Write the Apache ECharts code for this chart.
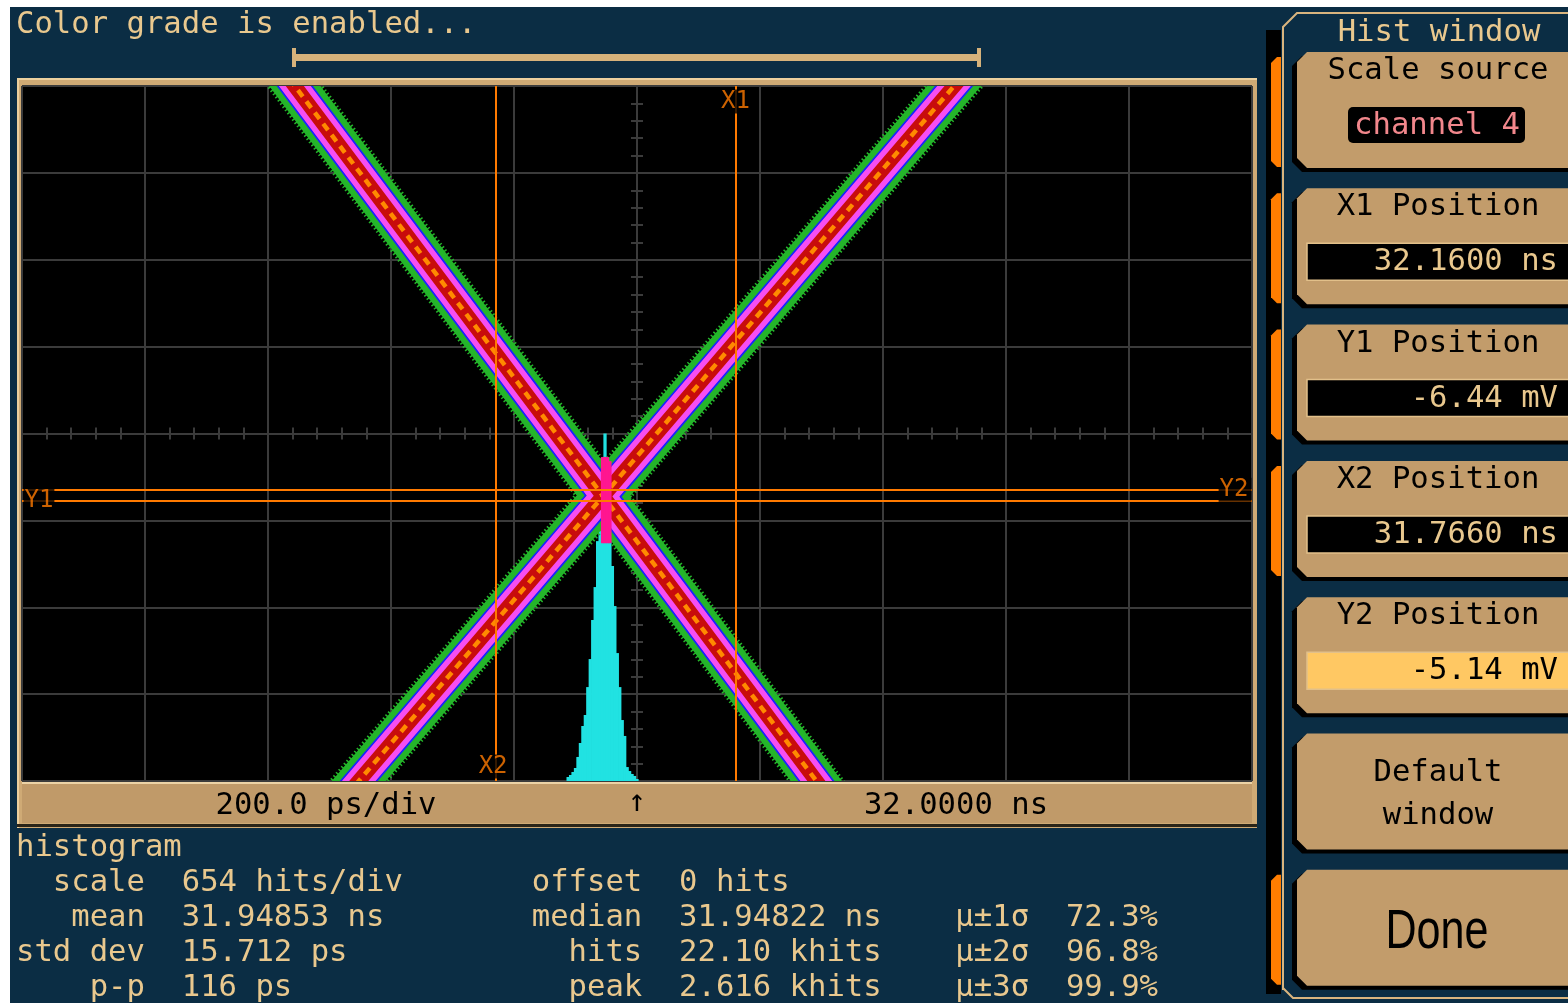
<!DOCTYPE html>
<html>
<head>
<meta charset="utf-8">
<title>Hist window</title>
<script src="https://cdn.jsdelivr.net/npm/echarts@6/dist/echarts.min.js"></script>
<style>
  html, body { margin: 0; padding: 0; background: #0b2d44; }
  #main { width: 1568px; height: 1003px; }
</style>
</head>
<body>
<div id="main"></div>
<script>
// screen scale
var centerTime = 32.0;     // ns at screen centre
var timePerDiv = 0.2;      // 200 ps/div
var centerMv = 1.33;       // mV at screen centre
var mvPerDiv = 10;
var hitsPerDiv = 654;

// colour graded edges, centre lines (ns, mV)
var fallingTime = [31.394, 31.943, 32.348];
var fallingMv = [46, -5.7, -44];
var risingTime = [31.483, 31.947, 32.572];
var risingMv = [-44, -5.7, 46];

// histogram of crossing times, 4 ps bins
var histStart = 31.886;
var histBin = 0.004;
var histHits = [30, 45, 68, 98, 181, 286, 414, 497, 707, 918, 1212, 1460, 1806, 2107, 2438,
  2616, 2438, 2408, 1618, 1317, 963, 707, 459, 339, 105, 75, 53, 38, 15];
// part of the histogram that sits on top of the edges (drawn pink)
var overlapTime = [31.944, 31.962];
var overlapHits = [1790, 2440];

// cursors
var cursorX1 = 32.16, cursorX2 = 31.766;
var cursorY1 = -6.44, cursorY2 = -5.14;

// statistics block
var statLabels = ['scale', 'mean', 'std dev', 'p-p'];
var statValues = ['654 hits/div', '31.94853 ns', '15.712 ps', '116 ps'];
var statLabels2 = ['offset', 'median', 'hits', 'peak'];
var statValues2 = ['0 hits', '31.94822 ns', '22.10 khits', '2.616 khits'];
var sigmaLabels = ['', 'μ±1σ', 'μ±2σ', 'μ±3σ'];
var sigmaValues = ['', '72.3%', '96.8%', '99.9%'];

// side menu
var menuTitle = 'Hist window';
var menuLabels = ['Scale source', 'X1 Position', 'Y1 Position', 'X2 Position', 'Y2 Position', 'Default\nwindow', 'Done'];
var menuValues = ['channel 4', '32.1600 ns', '-6.44 mV', '31.7660 ns', '-5.14 mV', '', ''];
var menuTabs = [1, 1, 1, 1, 0, 0, 1];
var menuActive = 4;

var NAVY = '#0b2d44';
var TAN = '#c29c6b';
var TAN_TEXT = '#e9c88e';
var GRID = '#3b3b3b';
var CURSOR = '#ff7a00';
var MONO = '"DejaVu Sans Mono", monospace';
var FONT = '30.6px ' + MONO;

var xMin = centerTime - 5 * timePerDiv, xMax = centerTime + 5 * timePerDiv;
var yMin = centerMv - 4 * mvPerDiv, yMax = centerMv + 4 * mvPerDiv;

function txt(x, y, s, fill, align, font, z) {
  return {
    type: 'text', x: x, y: y, z: z || 5, silent: true,
    style: {
      text: s, fill: fill, font: font || FONT,
      textAlign: align || 'left', align: align || 'left',
      textVerticalAlign: 'middle', verticalAlign: 'middle'
    }
  };
}
function box(x, y, w, h, fill, z, extra) {
  var el = { type: 'rect', z: z || 1, silent: true, shape: { x: x, y: y, width: w, height: h }, style: { fill: fill } };
  if (extra) { for (var k in extra) el.style[k] = extra[k]; }
  return el;
}
function chamfered(x, y, right, h, c, fill, z) {
  return {
    type: 'polygon', z: z || 1, silent: true,
    shape: { points: [[x + c, y], [right, y], [right, y + h], [x + c, y + h], [x, y + h - c], [x, y + c]] },
    style: { fill: fill }
  };
}

var gfx = [];
// screenshot border
gfx.push(box(0, 0, 1568, 7, '#ffffff', 20));
gfx.push(box(0, 0, 10, 1003, '#ffffff', 20));

gfx.push(txt(16, 25, 'Color grade is enabled...', TAN_TEXT));
// horizontal position bar
gfx.push(box(294, 54, 685, 7, '#d6b27b', 2));
gfx.push(box(292, 48, 4, 19, '#d6b27b', 2));
gfx.push(box(977, 48, 4, 19, '#d6b27b', 2));

// frame round the screen and the time base strip
gfx.push(box(17, 78, 1240, 750, '#cfaa75', -1));
gfx.push(box(17, 78, 1240, 2, '#ecd09e', -1));
gfx.push(box(17, 78, 2, 750, '#ecd09e', -1));
gfx.push(box(22, 782, 1230, 41, '#c09a69', 1));
gfx.push(box(22, 782, 1230, 2, '#ecd3a6', 1));
gfx.push(box(17, 824, 1240, 3, '#2a2418', 1));
gfx.push(txt(326, 806, (timePerDiv * 1000).toFixed(1) + ' ps/div', '#000', 'center'));
gfx.push(txt(637, 803, '↑', '#000', 'center'));
gfx.push(txt(956, 806, centerTime.toFixed(4) + ' ns', '#000', 'center'));

// statistics
function statRow(i) {
  return statLabels[i].padStart(7) + '  ' + statValues[i].padEnd(19) +
    statLabels2[i].padStart(6) + '  ' + statValues2[i].padEnd(15) +
    sigmaLabels[i] + (sigmaLabels[i] ? '  ' : '') + sigmaValues[i];
}
gfx.push(txt(16, 848, 'histogram', TAN_TEXT));
for (var i = 0; i < statLabels.length; i++) {
  gfx.push(txt(16, 883 + 35 * i, statRow(i), TAN_TEXT));
}

// side menu
gfx.push(box(1266, 30, 15, 964, '#000', 1));
gfx.push({ type: 'polyline', z: 2, silent: true, shape: { points: [[1283, 990], [1283, 27], [1297, 13], [1568, 13]] },
  style: { stroke: '#d9b47e', lineWidth: 2, fill: null } });
gfx.push({ type: 'polyline', z: 2, silent: true, shape: { points: [[1283, 988], [1293, 998], [1568, 998]] },
  style: { stroke: '#d9b47e', lineWidth: 2, fill: null } });
gfx.push(txt(1439, 33, menuTitle, TAN_TEXT, 'center'));

var btnX = 1297, btnTop = 52, btnStep = 136.3, btnH = 116;
menuLabels.forEach(function (label, k) {
  var top = btnTop + btnStep * k;
  gfx.push(chamfered(btnX - 5, top + 4, 1580, btnH, 10, '#000', 2));
  gfx.push(chamfered(btnX, top, 1580, btnH, 10, TAN, 3));
  if (menuTabs[k]) {
    gfx.push(chamfered(1271, top + 5, 1281, btnH - 6, 6, '#ff7d00', 3));
  }
  if (k === 0) {
    gfx.push(txt(1438, top + 19, label, '#000', 'center', null, 4));
    gfx.push({ type: 'rect', z: 4, silent: true, shape: { x: 1348, y: top + 55, width: 177, height: 36, r: 5 },
      style: { fill: '#000' } });
    gfx.push(txt(1437, top + 74, menuValues[k], '#f2878c', 'center', null, 5));
  } else if (menuValues[k]) {
    var on = k === menuActive;
    gfx.push(txt(1438, top + 19, label, '#000', 'center', null, 4));
    gfx.push(box(1307, top + 55, 270, 37, on ? '#ffc863' : '#000', 4, { stroke: '#e2c08a', lineWidth: 1.5 }));
    gfx.push(txt(1558, top + 74, menuValues[k], on ? '#000' : TAN_TEXT, 'right', null, 5));
  } else if (k === menuLabels.length - 1) {
    var done = txt(1437, top + 63, label, '#000', 'center', '56px "Liberation Sans", sans-serif', 5);
    done.scaleX = 0.77;
    gfx.push(done);
  } else {
    var t = txt(1438, top + 61, label, '#000', 'center', null, 5);
    t.style.lineHeight = 43;
    gfx.push(t);
  }
});

// colour grade layers, widest (lowest density) first
var gradeLayers = [
  { color: '#24b52a', width: 46, dash: [1.5, 2.5] },
  { color: '#24b52a', width: 41 },
  { color: '#1a22ff', width: 29 },
  { color: '#f64ef2', width: 25.5 },
  { color: '#c80c0c', width: 14.5 },
  { color: '#ff8a00', width: 4.5, dash: [8, 6] }
];
var edges = [[fallingTime, fallingMv], [risingTime, risingMv]];
var traceItems = [];
gradeLayers.forEach(function (layer) {
  edges.forEach(function (e) { traceItems.push({ layer: layer, time: e[0], mv: e[1] }); });
});

var series = [];
series.push({
  type: 'custom', xAxisIndex: 0, yAxisIndex: 2, z: 2, silent: true, clip: true,
  data: traceItems.map(function (it) { return [it.time[1], it.mv[1]]; }),
  renderItem: function (params, api) {
    var it = traceItems[params.dataIndex];
    var pts = it.time.map(function (t, j) { return api.coord([t, it.mv[j]]); });
    return {
      type: 'polyline', shape: { points: pts },
      style: { stroke: it.layer.color, lineWidth: it.layer.width, lineDash: it.layer.dash || null, fill: null }
    };
  }
});

var histData = histHits.map(function (h, i) { return [histStart + i * histBin, h]; });
series.push({
  type: 'custom', xAxisIndex: 0, yAxisIndex: 3, data: histData, z: 1, silent: true,
  renderItem: function (params, api) {
    var x0 = api.value(0), h = api.value(1);
    var p0 = api.coord([x0, h]), p1 = api.coord([x0 + histBin, 0]);
    return { type: 'rect', shape: { x: p0[0] - 0.4, y: p0[1], width: p1[0] - p0[0] + 0.8, height: p1[1] - p0[1] },
      style: { fill: '#21e2e2' } };
  }
});
series.push({
  type: 'custom', xAxisIndex: 0, yAxisIndex: 3, data: histData, z: 3, silent: true,
  renderItem: function (params, api) {
    var x0 = api.value(0), h = api.value(1), mid = x0 + histBin / 2;
    if (mid < overlapTime[0] || mid > overlapTime[1] || h <= overlapHits[0]) return { type: 'group', children: [] };
    var p0 = api.coord([x0, Math.min(h, overlapHits[1])]), p1 = api.coord([x0 + histBin, overlapHits[0]]);
    return { type: 'rect', shape: { x: p0[0] - 0.4, y: p0[1], width: p1[0] - p0[0] + 0.8, height: p1[1] - p0[1] },
      style: { fill: '#ff1690' } };
  }
});

// cursors
series.push({
  type: 'line', xAxisIndex: 0, yAxisIndex: 2, data: [], z: 4, silent: true,
  markLine: {
    symbol: 'none', silent: true, animation: false, label: { show: false },
    lineStyle: { color: CURSOR, width: 2, type: 'solid' }, emphasis: { disabled: true },
    data: [{ xAxis: cursorX1 }, { xAxis: cursorX2 }, { yAxis: cursorY1 }, { yAxis: cursorY2 }]
  }
});
var tagLabel = { show: true, color: CURSOR, fontFamily: MONO, fontSize: 24, backgroundColor: '#000', padding: [0, 1] };
series.push({
  type: 'scatter', xAxisIndex: 0, yAxisIndex: 2, z: 5, silent: true, symbolSize: 1,
  itemStyle: { color: 'rgba(0,0,0,0)' },
  label: tagLabel,
  data: [
    { value: [cursorX1, yMax], label: { position: 'bottom', distance: 3, formatter: 'X1' } },
    { value: [cursorX2, yMin], label: { position: 'top', distance: 2, formatter: 'X2' } },
    { value: [xMin, cursorY1], label: { position: 'right', distance: 1, formatter: 'Y1' } },
    { value: [xMax, cursorY2], label: { position: 'left', distance: 0, formatter: 'Y2', padding: [0, 3, 0, 1] } }
  ]
});

var gridLine = { color: GRID, width: 2 };
function centreAxis(pos, split) {
  return {
    type: 'value', position: pos, min: xMin, max: xMax, interval: timePerDiv,
    axisLine: { show: true, onZero: true, onZeroAxisIndex: 0, lineStyle: gridLine },
    axisTick: { show: false }, axisLabel: { show: false },
    minorTick: { show: true, splitNumber: 5, length: 6, lineStyle: gridLine },
    splitLine: { show: split, lineStyle: gridLine }
  };
}
function centreYAxis(pos, split) {
  return {
    type: 'value', position: pos, min: -4, max: 4, interval: 1,
    axisLine: { show: true, onZero: true, onZeroAxisIndex: 2, lineStyle: gridLine },
    axisTick: { show: false }, axisLabel: { show: false },
    minorTick: { show: true, splitNumber: 5, length: 6, lineStyle: gridLine },
    splitLine: { show: split, lineStyle: gridLine }
  };
}

var chart = echarts.init(document.getElementById('main'));
chart.setOption({
  backgroundColor: NAVY,
  animation: false,
  grid: { left: 22, top: 86, width: 1230, height: 695, show: true, backgroundColor: '#000', borderWidth: 0 },
  xAxis: [
    centreAxis('bottom', true),
    centreAxis('top', false),
    { type: 'value', min: -5, max: 5, show: false }
  ],
  yAxis: [
    centreYAxis('left', true),
    centreYAxis('right', false),
    { type: 'value', min: yMin, max: yMax, show: false },
    { type: 'value', min: 0, max: 8 * hitsPerDiv, show: false }
  ],
  graphic: { elements: gfx },
  series: series
});
</script>
</body>
</html>
